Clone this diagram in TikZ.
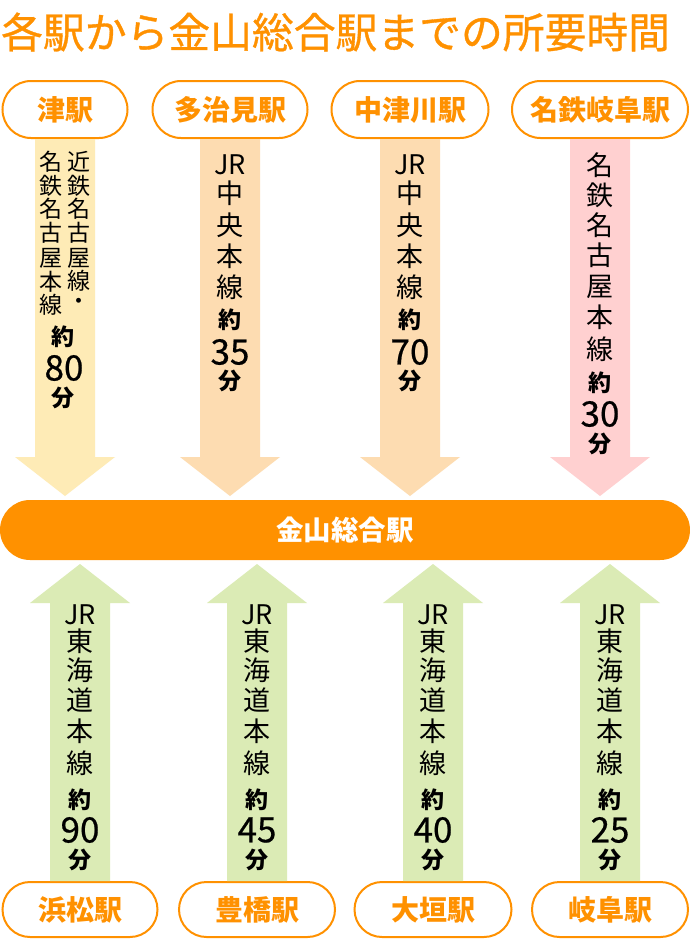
\documentclass[tikz,border=0pt]{standalone}
\usepackage{fontspec}
\setmainfont{Noto Sans CJK JP}
\newfontfamily\numfont{Noto Sans CJK JP}[FakeBold=0.6]
\newfontfamily\ttlfont{Noto Sans CJK JP}[FakeBold=0.8]
\usetikzlibrary{calc}
\definecolor{org}{HTML}{FF9100}
\definecolor{ayel}{HTML}{FEEBB6}
\definecolor{apch}{HTML}{FDDCB1}
\definecolor{apnk}{HTML}{FFD0D0}
\definecolor{agrn}{HTML}{DBEBB5}
\newcommand\downarr[3]{%
  \fill[#3] ($(#1.south)+(-30,0)$) -- ($(#1.south)+(30,0)$) -- ($(#2)+(30,-39)$) -- ($(#2)+(50,-39)$) -- (#2) -- ($(#2)+(-50,-39)$) -- ($(#2)+(-30,-39)$) -- cycle;}
\newcommand\uparr[3]{%
  \fill[#3] ($(#1.north)+(-30,0)$) -- ($(#1.north)+(30,0)$) -- ($(#2)+(30,39)$) -- ($(#2)+(50,39)$) -- (#2) -- ($(#2)+(-50,39)$) -- ($(#2)+(-30,39)$) -- cycle;}
\begin{document}
\begin{tikzpicture}[x=1pt,y=-1pt,
  station/.style={draw=org,line width=2pt,fill=white,rounded corners=28.5pt,minimum height=57pt,inner sep=0pt,font=\fontsize{28}{28}\selectfont\bfseries,text=org},
  stationb/.style={station,rounded corners=27.5pt,minimum height=55pt},
  bar/.style={fill=org,rounded corners=30pt,minimum width=690pt,minimum height=60pt,inner sep=0pt,font=\fontsize{27.5}{27.5}\selectfont\bfseries,text=white},
  ln/.style={font=\fontsize{27}{27}\selectfont,inner sep=0pt},
  lns/.style={font=\fontsize{23}{23}\selectfont,inner sep=0pt},
  yk/.style={font=\fontsize{23}{23}\selectfont\bfseries,inner sep=0pt},
  num/.style={font=\fontsize{35}{35}\numfont,inner sep=0pt},
  ttl/.style={font=\fontsize{41.8}{41.8}\ttlfont,text=org,inner sep=0pt,anchor=west}
]
\useasboundingbox (0,0) rectangle (690,940);
\fill[white] (0,0) rectangle (690,940);

\node[ttl] (title) at (1,32) {各駅から金山総合駅までの所要時間};

% top stations
\node[station,minimum width=125pt] (tsu) at (65,109.5) {津駅};
\node[station,minimum width=155pt] (taji) at (230,109.5) {多治見駅};
\node[station,minimum width=157pt] (naka) at (410,109.5) {中津川駅};
\node[station,minimum width=176pt] (mgif) at (600,109.5) {名鉄岐阜駅};

% central bar
\node[bar] (kana) at (345,530) {金山総合駅};

% bottom stations
\node[stationb,minimum width=155pt] (hama) at (80,909.5) {浜松駅};
\node[stationb,minimum width=156pt] (toyo) at (257,909.5) {豊橋駅};
\node[stationb,minimum width=157pt] (ogak) at (433,909.5) {大垣駅};
\node[stationb,minimum width=156pt] (gifu) at (610,909.5) {岐阜駅};

% arrow tips
\coordinate (t1) at (65,496);
\coordinate (t2) at (230,496);
\coordinate (t3) at (410,496);
\coordinate (t4) at (600,496);
\coordinate (b1) at (80,564);
\coordinate (b2) at (257,564);
\coordinate (b3) at (433,564);
\coordinate (b4) at (610,564);

\downarr{tsu}{t1}{ayel}
\downarr{taji}{t2}{apch}
\downarr{naka}{t3}{apch}
\downarr{mgif}{t4}{apnk}
\uparr{hama}{b1}{agrn}
\uparr{toyo}{b2}{agrn}
\uparr{ogak}{b3}{agrn}
\uparr{gifu}{b4}{agrn}

% column 1 (tsu)
\foreach \t/\y [count=\i] in {近/162,鉄/186,名/209,古/233,屋/258,線/281,・/304}
  \node[lns] (ar\i) at (79,\y) {\t};
\foreach \t/\y [count=\i] in {名/162,鉄/186,名/209,古/233,屋/258,本/282,線/305}
  \node[lns] (al\i) at (51,\y) {\t};
\node[yk] (ay) at (63,337) {約};
\node[num] (an) at (64,368) {80};
\node[yk] (af) at (63,398) {分};

% column 2 (tajimi)
\foreach \t/\y [count=\i] in {JR/165,中/193,央/225,本/256,線/287}
  \node[ln] (bl\i) at (230,\y) {\t};
\node[yk] (by) at (230,320) {約};
\node[num] (bn) at (230,352) {35};
\node[yk] (bf) at (230,381) {分};

% column 3 (nakatsugawa)
\foreach \t/\y [count=\i] in {JR/165,中/193,央/225,本/256,線/287}
  \node[ln] (cl\i) at (410,\y) {\t};
\node[yk] (cy) at (410,320) {約};
\node[num] (cn) at (410,352) {70};
\node[yk] (cf) at (410,381) {分};

% column 4 (meitetsu gifu)
\foreach \t/\y [count=\i] in {名/165,鉄/195,名/225,古/255,屋/287,本/317,線/349}
  \node[ln] (dl\i) at (600,\y) {\t};
\node[yk] (dy) at (600,383) {約};
\node[num] (dn) at (600,414) {30};
\node[yk] (df) at (600,444) {分};

% bottom columns
\foreach \x/\n/\k in {80/90/e,257/45/f,433/40/g,610/25/h}{
  \foreach \t/\y [count=\i] in {JR/615,東/641,海/670,道/700,本/731,線/763}
    \node[ln] (\k l\i) at (\x,\y) {\t};
  \node[yk] (\k y) at (\x,800) {約};
  \node[num] (\k n) at (\x,830) {\n};
  \node[yk] (\k f) at (\x,860) {分};
}
\end{tikzpicture}
\end{document}
